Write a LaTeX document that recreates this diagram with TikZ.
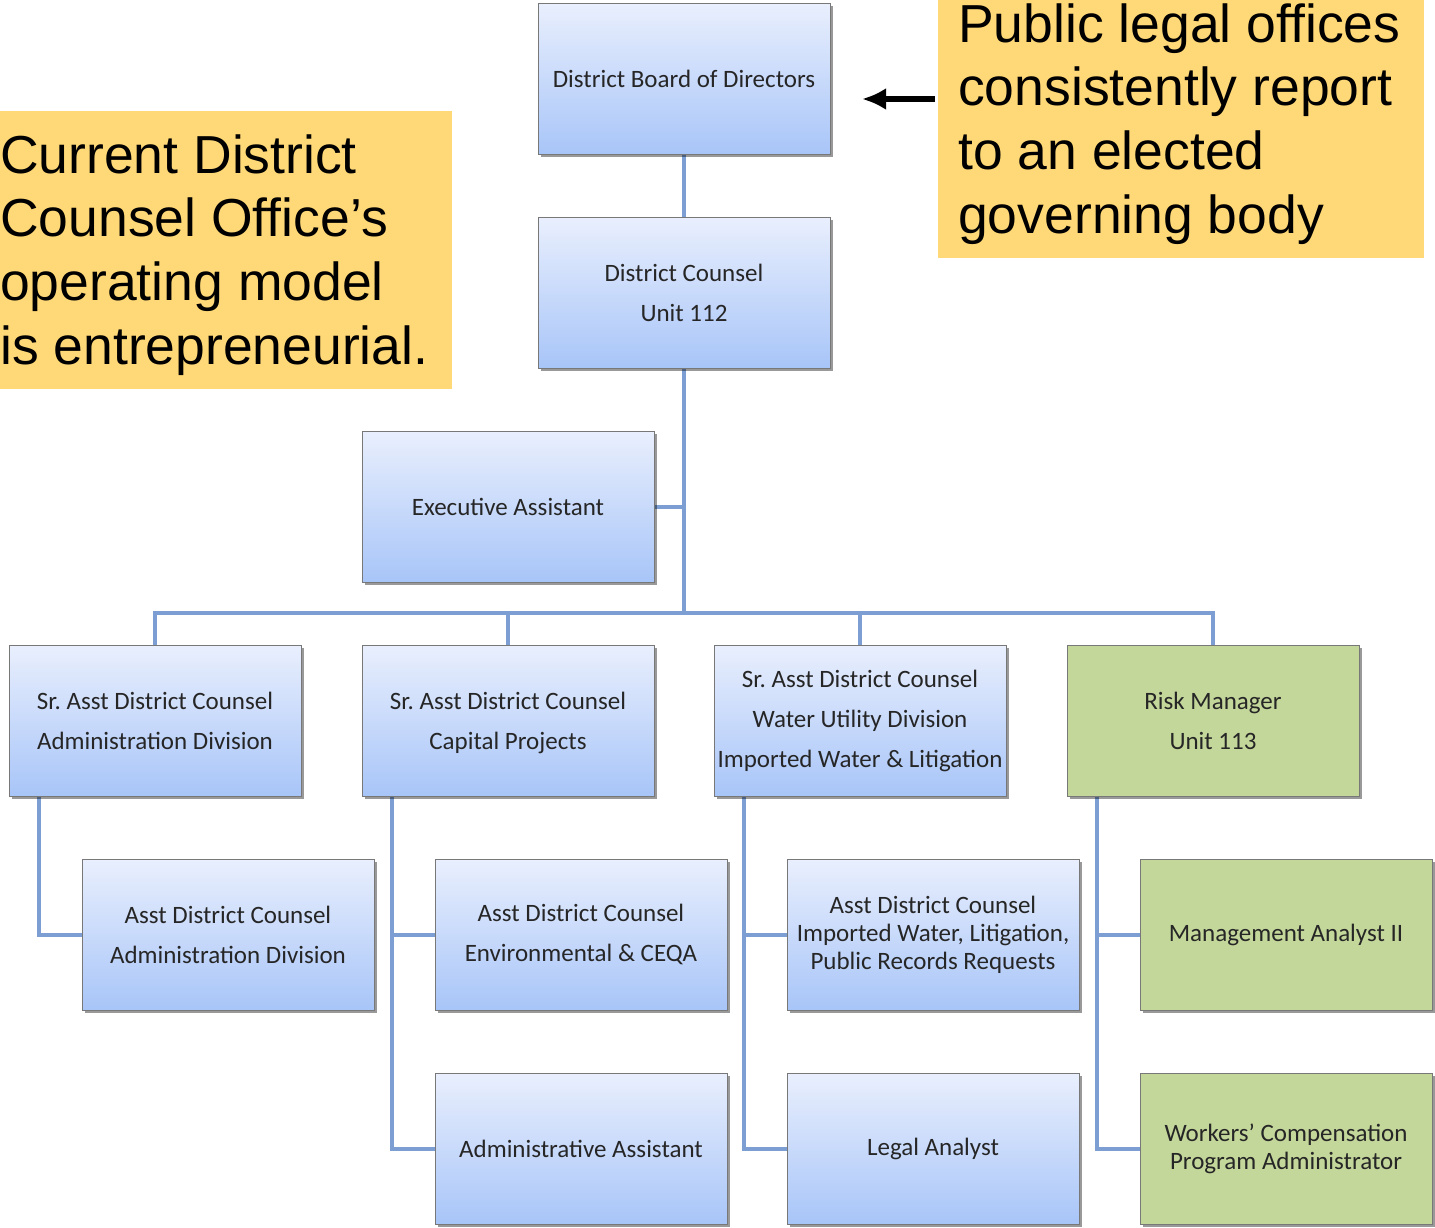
\documentclass[tikz,border=0pt]{standalone}
\usepackage{fontspec}
\setmainfont{Liberation Sans}
\newfontfamily\carlito{Carlito}
\usetikzlibrary{shadows,arrows.meta,backgrounds}
\frenchspacing
\definecolor{boxtop}{RGB}{233,239,253}
\definecolor{boxbot}{RGB}{168,197,248}
\definecolor{boxgreen}{RGB}{196,215,155}
\definecolor{boxedge}{RGB}{120,120,120}
\definecolor{connblue}{RGB}{124,158,210}
\definecolor{noteyellow}{RGB}{255,217,120}
\definecolor{txt}{RGB}{38,38,38}
\tikzset{
  orgbox/.style={draw=boxedge, line width=1pt, minimum width=292pt, minimum height=151pt,
    inner sep=0pt, align=center, text=txt,
    font=\carlito\fontsize{25}{40}\selectfont\frenchspacing,
    drop shadow={shadow xshift=2.5pt, shadow yshift=-2.5pt, opacity=0.4, fill=black}},
  bluebox/.style={orgbox, top color=boxtop, bottom color=boxbot},
  greenbox/.style={orgbox, fill=boxgreen},
  conn/.style={draw=connblue, line width=4pt},
  notetext/.style={anchor=west, align=left, font=\fontsize{53.5}{63.7}\selectfont, inner sep=0pt, text=black},
}
\begin{document}
\begin{tikzpicture}[x=1pt,y=-1pt]
\useasboundingbox (0,0) rectangle (1435,1228);
% notes
\fill[noteyellow] (0,111) rectangle (452,389);
\node[notetext] (lnote) at (0,255)
 {Current District\\Counsel Office’s\\operating model\\is entrepreneurial.};
\fill[noteyellow] (938,0) rectangle (1424,258);
\node[notetext] (rnote) at (958,124)
 {Public legal offices\\consistently report\\to an elected\\governing body};
% boxes
\node[bluebox] (board) at (684,79) {District Board of Directors};
\node[bluebox] (dc) at (684,292.5) {District Counsel\\Unit 112};
\node[bluebox] (ea) at (508,506.5) {Executive Assistant};
\node[bluebox] (a) at (155,720.5) {Sr. Asst District Counsel\\Administration Division};
\node[bluebox, text depth=0pt] (b) at (508,720.5) {Sr. Asst District Counsel\\Capital Projects};
\node[bluebox] (c) at (860,720.5) {Sr. Asst District Counsel\\Water Utility Division\\Imported Water \& Litigation};
\node[greenbox] (d) at (1213,720.5) {Risk Manager\\Unit 113};
\node[bluebox] (a2) at (228,934.5) {Asst District Counsel\\Administration Division};
\node[bluebox] (b2) at (581,934.5) {Asst District Counsel\\Environmental \& CEQA};
\node[bluebox] (c2) at (933,934.5) {Asst District Counsel\\[-12pt]Imported Water, Litigation,\\[-12pt]Public Records Requests};
\node[greenbox] (d2) at (1286,934.5) {Management Analyst II};
\node[bluebox] (b3) at (581,1148.5) {Administrative Assistant};
\node[bluebox] (c3) at (933,1148.5) {Legal Analyst};
\node[greenbox] (d3) at (1286,1148.5) {Workers’ Compensation\\[-12pt]Program Administrator};
% arrow
\coordinate (arrtail) at (935,99);
\coordinate (arrhead) at (862,99);
\draw[line width=5.5pt, -{Latex[length=24pt,width=22pt]}] (arrtail) -- (arrhead);
% connectors
\coordinate (bus) at (684,613);
\coordinate (ax) at ([xshift=30pt]a.south west);
\coordinate (bx) at ([xshift=30pt]b.south west);
\coordinate (cx) at ([xshift=30pt]c.south west);
\coordinate (dx) at ([xshift=30pt]d.south west);
\begin{pgfonlayer}{background}
\draw[conn] (board.south) -- (dc.north);
\draw[conn] (dc.south) -- (bus);
\draw[conn] (ea.east) -- (ea.east -| bus);
\draw[conn] (a.north) |- (bus) -| (d.north);
\draw[conn] (b.north) -- (b.north |- bus);
\draw[conn] (c.north) -- (c.north |- bus);
\draw[conn] (ax) |- (a2.west);
\draw[conn] (bx) |- (b3.west);
\draw[conn] (b2.west -| bx) -- (b2.west);
\draw[conn] (cx) |- (c3.west);
\draw[conn] (c2.west -| cx) -- (c2.west);
\draw[conn] (dx) |- (d3.west);
\draw[conn] (d2.west -| dx) -- (d2.west);
\end{pgfonlayer}
\end{tikzpicture}
\end{document}
